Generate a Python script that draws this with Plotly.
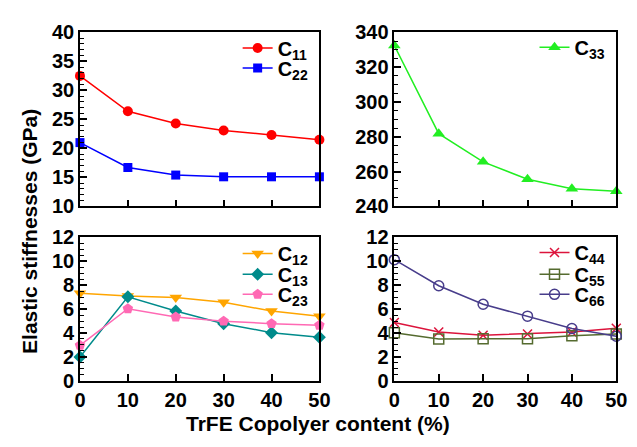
import plotly.graph_objects as go

x_content = [0, 10, 20, 30, 40, 50]

c11 = [32.5, 26.4, 24.3, 23.1, 22.3, 21.5]
c22 = [21.0, 16.7, 15.4, 15.1, 15.1, 15.1]
c33 = [332.4, 281.8, 265.6, 255.6, 250.2, 248.7]
c12 = [7.33, 7.09, 6.96, 6.56, 5.84, 5.39]
c13 = [1.99, 7.03, 5.84, 4.78, 4.03, 3.64]
c23 = [2.97, 6.03, 5.34, 4.99, 4.78, 4.65]
c44 = [4.88, 4.08, 3.81, 3.92, 4.08, 4.4]
c55 = [4.03, 3.49, 3.52, 3.52, 3.76, 3.92]
c66 = [10.13, 7.95, 6.4, 5.41, 4.37, 3.73]

x_ticks = [0, 10, 20, 30, 40, 50]

FONT = "Liberation Sans"
W, H = 637, 447

fig = go.Figure()
legends = {}

def add(y, name, color, symbol, size, xa, ya, legend, lx, ly, open_marker=False):
    marker = dict(symbol=symbol, size=size, color=color)
    if open_marker:
        marker["line"] = dict(color=color, width=1.5)
    fig.add_trace(go.Scatter(
        x=x_content, y=y, name=name, mode="lines+markers",
        line=dict(color=color, width=1.5), marker=marker,
        xaxis=xa, yaxis=ya, legend=legend, cliponaxis=False, showlegend=True))
    legends[legend] = dict(
        x=lx / W, y=(H - ly) / H, xanchor="left", yanchor="middle",
        bgcolor="rgba(0,0,0,0)", borderwidth=0, itemwidth=30, visible=True,
        font=dict(family=FONT, size=20, color="black", weight="bold"))

LX_L, LX_R = 238, 543
add(c11, "C<sub>11</sub>", "#ff0000", "circle", 10, "x", "y", "legend", LX_L, 39)
add(c22, "C<sub>22</sub>", "#0000ff", "square", 9, "x", "y", "legend2", LX_L, 60)
add(c33, "C<sub>33</sub>", "#22ee22", "triangle-up", 11, "x2", "y2", "legend3", LX_R, 38)
add(c12, "C<sub>12</sub>", "#ffa500", "triangle-down", 11, "x3", "y3", "legend4", LX_L, 255)
add(c13, "C<sub>13</sub>", "#008b8b", "diamond", 10, "x3", "y3", "legend5", LX_L, 277)
add(c23, "C<sub>23</sub>", "#ff69b4", "pentagon", 11, "x3", "y3", "legend6", LX_L, 298)
add(c44, "C<sub>44</sub>", "#dc143c", "x-thin-open", 9, "x4", "y4", "legend7", LX_R, 254, True)
add(c55, "C<sub>55</sub>", "#556b2f", "square-open", 10, "x4", "y4", "legend8", LX_R, 277, True)
add(c66, "C<sub>66</sub>", "#483d8b", "circle-open", 10, "x4", "y4", "legend9", LX_R, 298, True)

xd_left = [76 / W, 322 / W]
xd_right = [399 / W, 627 / W]
yd_top = [(H - 205.5) / H, (H - 22.5) / H]
yd_bot = [(H - 389) / H, (H - 238) / H]

tickfont = dict(family=FONT, size=20, color="black", weight="bold")

def xaxis(domain, anchor, labels):
    return dict(domain=domain, anchor=anchor, range=[0, 50],
                tickmode="array", tickvals=x_ticks,
                showticklabels=labels, ticks="inside", ticklen=7, tickwidth=1.5,
                tickcolor="black", showline=True, mirror=True, linecolor="black",
                linewidth=1.5, showgrid=False, zeroline=False, tickfont=tickfont)

def yaxis(domain, anchor, rng, dtick, minor):
    return dict(domain=domain, anchor=anchor, range=rng, tickmode="linear",
                tick0=0, dtick=dtick,
                ticks="inside", ticklen=7, tickwidth=1.5, tickcolor="black",
                minor=dict(dtick=minor, tick0=0, ticks="inside", ticklen=4,
                           tickwidth=1.2, tickcolor="black"),
                showline=True, mirror=True, linecolor="black", linewidth=1.5,
                showgrid=False, zeroline=False, tickfont=tickfont)

layout = dict(
    width=W, height=H, autosize=False, showlegend=True,
    margin=dict(l=0, r=0, t=0, b=0),
    paper_bgcolor="white", plot_bgcolor="white",
    xaxis=xaxis(xd_left, "y", False),
    yaxis=yaxis(yd_top, "x", [10, 40], 5, 1),
    xaxis2=xaxis(xd_right, "y2", False),
    yaxis2=yaxis(yd_top, "x2", [240, 340], 20, 5),
    xaxis3=xaxis(xd_left, "y3", True),
    yaxis3=yaxis(yd_bot, "x3", [0, 12], 2, 0.5),
    xaxis4=xaxis(xd_right, "y4", True),
    yaxis4=yaxis(yd_bot, "x4", [0, 12], 2, 0.5),
    annotations=[
        dict(text="Elastic stiffnesses (GPa)", x=24 / W, y=(H - 232) / H,
             xref="paper", yref="paper", showarrow=False, textangle=-90,
             xanchor="center", yanchor="middle",
             font=dict(family=FONT, size=21, color="black", weight="bold")),
        dict(text="TrFE Copolyer content (%)", x=321 / W, y=(H - 434) / H,
             xref="paper", yref="paper", showarrow=False,
             xanchor="center", yanchor="middle",
             font=dict(family=FONT, size=21, color="black", weight="bold")),
    ],
)
layout.update(legends)
fig.update_layout(**layout)

fig.write_html("out.html")
